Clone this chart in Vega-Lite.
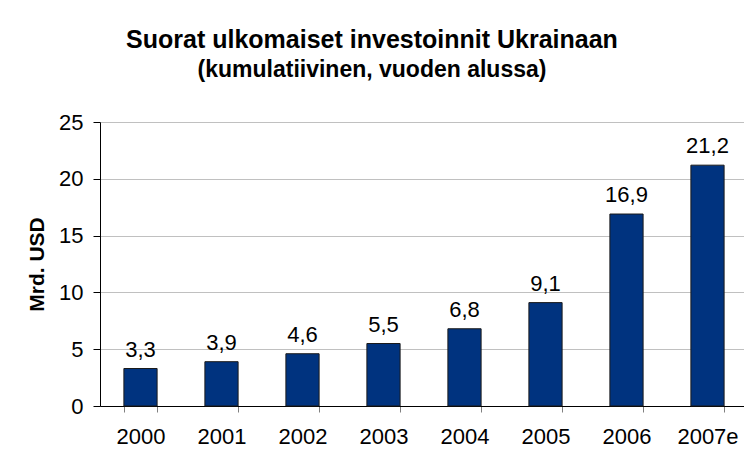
{
  "$schema": "https://vega.github.io/schema/vega-lite/v6.json",
  "autosize": "none",
  "width": 648,
  "height": 284,
  "padding": {"left": 100, "top": 122, "right": 0, "bottom": 51},
  "background": "white",
  "config": {
    "font": "Liberation Sans",
    "view": {"stroke": null},
    "locale": {"number": {"decimal": ",", "thousands": " ", "grouping": [3], "currency": ["", " €"]}}
  },
  "title": {
    "text": "Suorat ulkomaiset investoinnit Ukrainaan",
    "subtitle": "(kumulatiivinen, vuoden alussa)",
    "anchor": "middle",
    "frame": "group",
    "dx": -52,
    "offset": 29,
    "font": "Liberation Sans",
    "fontSize": 25,
    "fontWeight": "bold",
    "color": "black",
    "subtitleFont": "Liberation Sans",
    "subtitleFontSize": 23,
    "subtitleFontWeight": "bold",
    "subtitleColor": "black",
    "subtitlePadding": 6
  },
  "data": {
    "values": [
      {"vuosi": "2000", "arvo": 3.3},
      {"vuosi": "2001", "arvo": 3.9},
      {"vuosi": "2002", "arvo": 4.6},
      {"vuosi": "2003", "arvo": 5.5},
      {"vuosi": "2004", "arvo": 6.8},
      {"vuosi": "2005", "arvo": 9.1},
      {"vuosi": "2006", "arvo": 16.9},
      {"vuosi": "2007e", "arvo": 21.2}
    ]
  },
  "encoding": {
    "x": {
      "field": "vuosi",
      "type": "nominal",
      "sort": null,
      "scale": {"paddingInner": 0.59, "paddingOuter": 0.295},
      "axis": {
        "title": null,
        "labelAngle": 0,
        "labelFontSize": 22,
        "labelColor": "black",
        "labelPadding": 14,
        "tickBand": "extent",
        "tickSize": 6,
        "tickColor": "#808080",
        "domainColor": "black",
        "grid": false
      }
    },
    "y": {
      "field": "arvo",
      "type": "quantitative",
      "scale": {"domain": [0, 25], "nice": false},
      "axis": {
        "title": "Mrd. USD",
        "titleFontSize": 21,
        "titleFontWeight": "bold",
        "titleColor": "black",
        "titlePadding": 11,
        "values": [0, 5, 10, 15, 20, 25],
        "format": "d",
        "labelFontSize": 22,
        "labelColor": "black",
        "labelPadding": 10,
        "tickSize": 7,
        "tickColor": "black",
        "domainColor": "black",
        "gridColor": "#c0c0c0",
        "gridWidth": 1
      }
    }
  },
  "layer": [
    {
      "mark": {"type": "bar", "color": "#00337f", "stroke": "#1a1a1a", "strokeWidth": 1}
    },
    {
      "mark": {"type": "text", "baseline": "alphabetic", "dy": -12, "fontSize": 22, "color": "black"},
      "encoding": {
        "text": {"field": "arvo", "type": "quantitative", "format": ".1f"}
      }
    }
  ]
}
